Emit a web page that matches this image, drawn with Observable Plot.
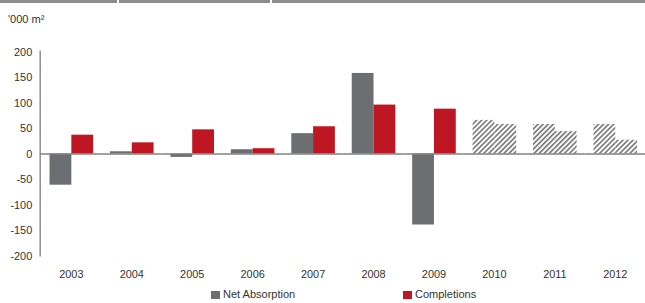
<!DOCTYPE html>
<html>
<head>
<meta charset="utf-8">
<script src="https://cdn.jsdelivr.net/npm/d3@7"></script>
<script src="https://cdn.jsdelivr.net/npm/@observablehq/plot@0.6"></script>
<style>
  html, body { margin: 0; padding: 0; background: #fff; width: 645px; height: 303px; overflow: hidden; position: relative; font-family: "Liberation Sans", Arial, sans-serif; }
  #band { position: absolute; left: 0; top: 0; width: 645px; height: 3px; background: #8c8c8c; }
  #band i { position: absolute; top: 0; width: 2px; height: 3px; background: #fff; }
  #unit { position: absolute; left: 8px; top: 13px; font-size: 11px; color: #333; }
  #chart { position: absolute; left: 0; top: 0; }
  #legend { position: absolute; left: 0; top: 284px; width: 645px; height: 19px; font-size: 11px; color: #333; }
  #legend span { position: absolute; top: 5px; line-height: 11px; white-space: nowrap; }
  #legend span b { display: inline-block; width: 9px; height: 8px; margin-right: 3px; vertical-align: -1px; }
</style>
</head>
<body>
<div id="chart"></div>
<div id="band"><i style="left:117px"></i><i style="left:270px"></i></div>
<div id="unit">'000 m²</div>
<div id="legend"></div>
<script>
const years = ["2003","2004","2005","2006","2007","2008","2009","2010","2011","2012"];
const series = ["Net Absorption", "Completions"];
const netAbsorption = [-61, 4.5, -6.5, 8.5, 40, 158, -139, 66, 58, 58];
const completions = [37, 22, 47.5, 10.5, 53.5, 96, 88, 58, 44, 27];
const forecastYears = ["2010", "2011", "2012"];
const yTicks = [-200, -150, -100, -50, 0, 50, 100, 150, 200];
const colors = ["#6d6e71", "#be1622"];

const rows = [];
years.forEach((yr, i) => {
  rows.push({year: yr, series: series[0], value: netAbsorption[i], forecast: forecastYears.includes(yr)});
  rows.push({year: yr, series: series[1], value: completions[i], forecast: forecastYears.includes(yr)});
});
const actual = rows.filter(d => !d.forecast);
const forecast = rows.filter(d => d.forecast);

const plot = Plot.plot({
  width: 651,
  height: 284,
  marginLeft: 40,
  marginRight: 0,
  marginTop: 52,
  marginBottom: 26,
  style: {fontFamily: "'Liberation Sans', Arial, sans-serif", fontSize: "11px", color: "#333", background: "transparent"},
  fx: {domain: years, padding: 0, label: null, axis: null},
  x: {domain: series, paddingInner: 0, paddingOuter: 0.386, axis: null},
  y: {domain: [-200, 200], axis: null},
  color: {domain: series, range: colors},
  marks: [
    Plot.axisY({ticks: yTicks, tickSize: 0, tickPadding: 9, label: null, tickFormat: d => String(d), facetAnchor: "left"}),
    Plot.axisFx({anchor: "bottom", tickSize: 0, tickPadding: 14, label: null}),
    Plot.barY(actual, {fx: "year", x: "series", y: "value", fill: "series"}),
    Plot.barY(forecast, {fx: "year", x: "series", y: "value", fill: "url(#hatch)"}),
    Plot.ruleY([0], {stroke: "#808080", strokeWidth: 1.5})
  ]
});

const svg = d3.select(plot);
const defs = svg.insert("defs", ":first-child");
const pat = defs.append("pattern")
  .attr("id", "hatch")
  .attr("patternUnits", "userSpaceOnUse")
  .attr("width", 3.6).attr("height", 3.6)
  .attr("patternTransform", "rotate(45)");
pat.append("rect").attr("width", 3.6).attr("height", 3.6).attr("fill", "#fff");
pat.append("line").attr("x1", 0.9).attr("y1", 0).attr("x2", 0.9).attr("y2", 3.6)
  .attr("stroke", "#7a7a7a").attr("stroke-width", 1.7);

const yScale = plot.scale("y");
svg.append("line")
  .attr("x1", 40.5).attr("x2", 40.5)
  .attr("y1", yScale.apply(200) - 1).attr("y2", yScale.apply(-200) + 1)
  .attr("stroke", "#555").attr("stroke-width", 1);

document.getElementById("chart").appendChild(plot);

const legend = document.getElementById("legend");
const legendX = [211, 403];
series.forEach((s, i) => {
  const el = document.createElement("span");
  el.style.left = legendX[i] + "px";
  el.innerHTML = `<b style="background:${colors[i]}"></b>${s}`;
  legend.appendChild(el);
});
</script>
</body>
</html>
